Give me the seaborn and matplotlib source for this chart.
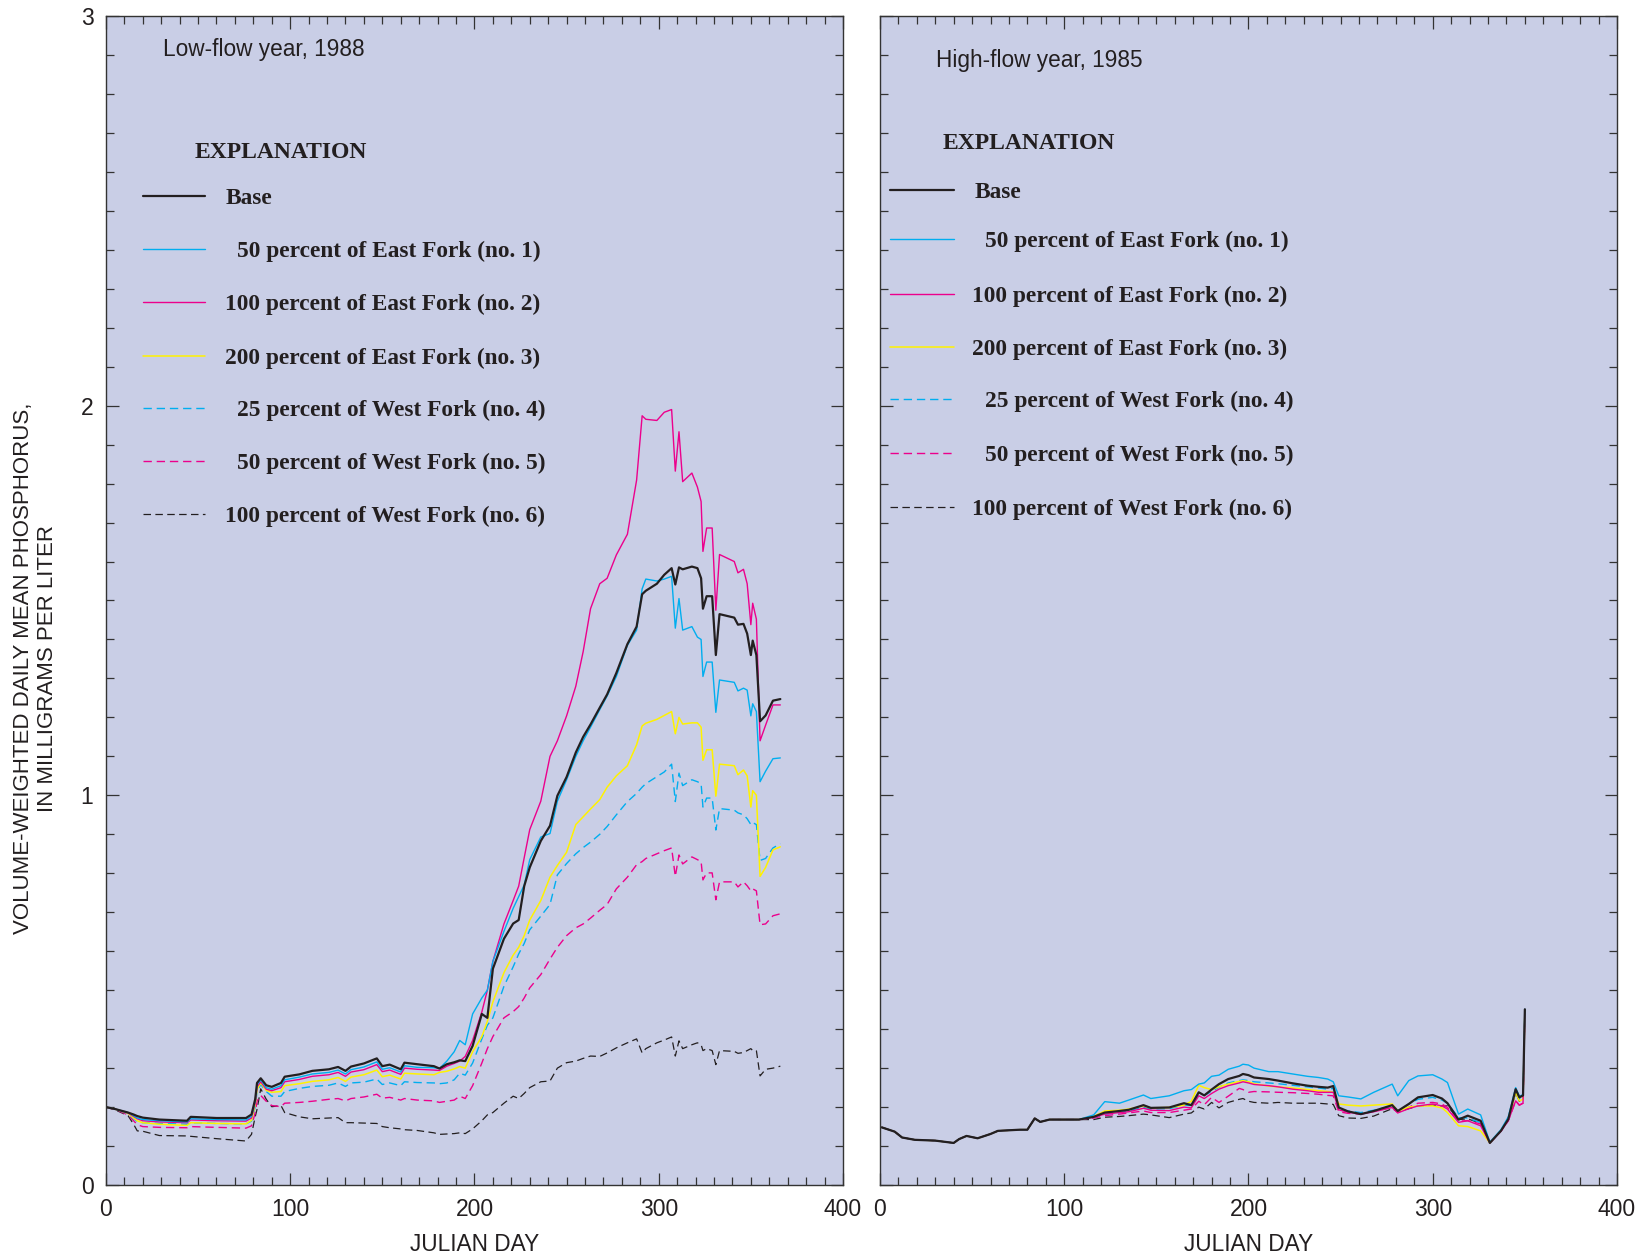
import matplotlib
matplotlib.use("Agg")
import matplotlib.pyplot as plt
from matplotlib.ticker import MultipleLocator
import pandas as pd
import seaborn as sns

# ---------------------------------------------------------------------------
# Simulated volume-weighted daily mean phosphorus (mg/L), low-flow year 1988
# ---------------------------------------------------------------------------
DAYS_1988 = [0, 5, 12, 15, 17, 20, 29, 44, 46, 60,
             76, 79, 81, 82, 84, 87, 90, 95, 97, 105,
             112, 121, 126, 130, 133, 140, 147, 150, 154, 160,
             162, 169, 178, 181, 185, 189, 192, 195, 199, 204,
             207, 210, 216, 221, 224, 227, 230, 236, 241, 245,
             250, 255, 259, 263, 268, 272, 277, 283, 288, 291,
             293, 299, 303, 307, 309, 311, 313, 318, 321, 323,
             324, 326, 329, 331, 333, 341, 343, 346, 348, 350,
             351, 353, 355, 358, 362, 366]

BASE_1988 = [0.200, 0.195, 0.186, 0.181, 0.177, 0.173, 0.168, 0.165, 0.175, 0.172,
             0.172, 0.181, 0.220, 0.262, 0.274, 0.256, 0.252, 0.262, 0.278, 0.284,
             0.293, 0.297, 0.303, 0.293, 0.304, 0.312, 0.325, 0.305, 0.309, 0.297,
             0.314, 0.310, 0.305, 0.299, 0.310, 0.315, 0.320, 0.318, 0.357, 0.439,
             0.429, 0.555, 0.632, 0.671, 0.680, 0.767, 0.815, 0.883, 0.922, 0.999,
             1.047, 1.110, 1.150, 1.182, 1.225, 1.259, 1.314, 1.388, 1.433, 1.516,
             1.525, 1.543, 1.566, 1.583, 1.541, 1.585, 1.580, 1.587, 1.583, 1.557,
             1.479, 1.511, 1.511, 1.360, 1.465, 1.456, 1.438, 1.440, 1.415, 1.360,
             1.397, 1.360, 1.190, 1.205, 1.243, 1.247]

EAST50_1988 = [0.200, 0.195, 0.186, 0.178, 0.172, 0.168, 0.165, 0.162, 0.170, 0.168,
               0.167, 0.176, 0.215, 0.257, 0.270, 0.250, 0.246, 0.255, 0.270, 0.277,
               0.285, 0.289, 0.295, 0.285, 0.296, 0.303, 0.316, 0.297, 0.301, 0.290,
               0.306, 0.302, 0.301, 0.299, 0.318, 0.342, 0.371, 0.360, 0.439, 0.480,
               0.500, 0.574, 0.651, 0.710, 0.740, 0.770, 0.835, 0.893, 0.902, 0.985,
               1.040, 1.100, 1.140, 1.175, 1.220, 1.255, 1.305, 1.385, 1.424, 1.530,
               1.555, 1.550, 1.555, 1.562, 1.429, 1.505, 1.424, 1.433, 1.406, 1.400,
               1.305, 1.342, 1.342, 1.213, 1.296, 1.290, 1.268, 1.275, 1.270, 1.204,
               1.235, 1.215, 1.035, 1.062, 1.094, 1.096]

EAST100_1988 = [0.200, 0.195, 0.185, 0.176, 0.170, 0.165, 0.162, 0.160, 0.167, 0.165,
                0.164, 0.172, 0.210, 0.252, 0.265, 0.246, 0.242, 0.250, 0.265, 0.271,
                0.279, 0.283, 0.289, 0.279, 0.290, 0.296, 0.309, 0.291, 0.295, 0.284,
                0.300, 0.297, 0.295, 0.294, 0.305, 0.312, 0.318, 0.330, 0.371, 0.444,
                0.500, 0.574, 0.670, 0.730, 0.767, 0.840, 0.912, 0.985, 1.100, 1.140,
                1.204, 1.280, 1.369, 1.479, 1.543, 1.557, 1.617, 1.670, 1.809, 1.974,
                1.965, 1.962, 1.983, 1.990, 1.832, 1.933, 1.805, 1.827, 1.791, 1.754,
                1.626, 1.686, 1.686, 1.475, 1.618, 1.600, 1.571, 1.580, 1.543, 1.438,
                1.493, 1.452, 1.140, 1.180, 1.232, 1.232]

EAST200_1988 = [0.200, 0.195, 0.184, 0.172, 0.165, 0.160, 0.156, 0.153, 0.160, 0.158,
                0.157, 0.166, 0.205, 0.245, 0.262, 0.243, 0.238, 0.240, 0.255, 0.260,
                0.266, 0.270, 0.276, 0.266, 0.277, 0.283, 0.295, 0.278, 0.282, 0.272,
                0.287, 0.285, 0.283, 0.289, 0.292, 0.298, 0.304, 0.300, 0.342, 0.381,
                0.420, 0.470, 0.545, 0.590, 0.610, 0.640, 0.680, 0.730, 0.790, 0.820,
                0.854, 0.925, 0.945, 0.965, 0.989, 1.021, 1.050, 1.076, 1.130, 1.178,
                1.185, 1.195, 1.205, 1.215, 1.158, 1.200, 1.183, 1.186, 1.186, 1.175,
                1.090, 1.117, 1.117, 0.998, 1.080, 1.076, 1.053, 1.065, 1.050, 0.970,
                1.012, 1.000, 0.792, 0.815, 0.860, 0.868]

WEST25_1988 = [0.200, 0.195, 0.183, 0.170, 0.163, 0.160, 0.158, 0.156, 0.160, 0.158,
               0.157, 0.164, 0.200, 0.240, 0.258, 0.240, 0.228, 0.228, 0.240, 0.248,
               0.253, 0.256, 0.262, 0.253, 0.262, 0.264, 0.272, 0.258, 0.262, 0.255,
               0.265, 0.263, 0.262, 0.260, 0.262, 0.270, 0.287, 0.282, 0.313, 0.375,
               0.410, 0.429, 0.510, 0.560, 0.593, 0.620, 0.655, 0.690, 0.720, 0.796,
               0.825, 0.850, 0.866, 0.880, 0.900, 0.920, 0.950, 0.984, 1.005, 1.021,
               1.030, 1.048, 1.060, 1.080, 0.984, 1.057, 1.025, 1.040, 1.035, 1.030,
               0.970, 0.993, 0.993, 0.911, 0.966, 0.962, 0.955, 0.950, 0.940, 0.925,
               0.930, 0.925, 0.833, 0.838, 0.865, 0.876]

WEST50_1988 = [0.200, 0.194, 0.180, 0.165, 0.155, 0.150, 0.148, 0.147, 0.150, 0.148,
               0.146, 0.152, 0.185, 0.215, 0.230, 0.215, 0.204, 0.201, 0.210, 0.212,
               0.215, 0.220, 0.222, 0.216, 0.222, 0.226, 0.233, 0.223, 0.225, 0.218,
               0.222, 0.218, 0.216, 0.212, 0.215, 0.218, 0.228, 0.222, 0.255, 0.313,
               0.350, 0.381, 0.429, 0.445, 0.458, 0.480, 0.506, 0.540, 0.580, 0.610,
               0.640, 0.660, 0.670, 0.685, 0.705, 0.720, 0.760, 0.790, 0.822, 0.830,
               0.838, 0.850, 0.858, 0.865, 0.792, 0.847, 0.824, 0.842, 0.835, 0.830,
               0.783, 0.801, 0.801, 0.732, 0.778, 0.778, 0.765, 0.778, 0.768, 0.755,
               0.760, 0.755, 0.668, 0.670, 0.691, 0.696]

WEST100_1988 = [0.200, 0.193, 0.178, 0.156, 0.139, 0.138, 0.127, 0.126, 0.125, 0.119,
                0.113, 0.130, 0.175, 0.194, 0.247, 0.220, 0.201, 0.204, 0.186, 0.175,
                0.170, 0.172, 0.173, 0.160, 0.160, 0.159, 0.158, 0.150, 0.147, 0.144,
                0.142, 0.140, 0.134, 0.130, 0.131, 0.132, 0.134, 0.132, 0.144, 0.165,
                0.180, 0.186, 0.210, 0.228, 0.222, 0.235, 0.250, 0.265, 0.267, 0.300,
                0.314, 0.318, 0.325, 0.331, 0.330, 0.339, 0.352, 0.365, 0.375, 0.339,
                0.350, 0.365, 0.372, 0.380, 0.331, 0.370, 0.350, 0.360, 0.365, 0.360,
                0.345, 0.350, 0.345, 0.309, 0.345, 0.343, 0.338, 0.340, 0.345, 0.350,
                0.345, 0.345, 0.280, 0.297, 0.300, 0.305]

# ---------------------------------------------------------------------------
# High-flow year 1985: all scenarios coincide until mid-April
# ---------------------------------------------------------------------------
DAYS_1985_EARLY = [1, 8, 12, 19, 30, 40, 43, 47, 53, 60, 64, 76, 80, 84, 87, 92, 108]
SHARED_1985_EARLY = [0.148, 0.137, 0.122, 0.116, 0.114, 0.108, 0.118, 0.126, 0.120,
                     0.131, 0.139, 0.142, 0.142, 0.171, 0.162, 0.168, 0.168]

DAYS_1985_LATE = [116, 122, 130, 135, 143, 147, 157, 165, 169, 173,
                  176, 180, 184, 189, 195, 197, 200, 203, 211, 216,
                  224, 232, 238, 243, 246, 249, 254, 261, 268, 278,
                  281, 287, 292, 300, 305, 308, 314, 319, 326, 331,
                  337, 341, 345, 347, 349, 350]

BASE_1985 = [0.175, 0.186, 0.190, 0.193, 0.205, 0.198, 0.199, 0.210, 0.205, 0.238,
             0.230, 0.245, 0.259, 0.272, 0.280, 0.285, 0.282, 0.276, 0.272, 0.268,
             0.261, 0.255, 0.252, 0.250, 0.254, 0.199, 0.189, 0.182, 0.190, 0.205,
             0.190, 0.208, 0.225, 0.231, 0.222, 0.210, 0.168, 0.178, 0.165, 0.108,
             0.139, 0.169, 0.246, 0.225, 0.230, 0.451]

EAST50_1985 = [0.180, 0.214, 0.210, 0.218, 0.231, 0.222, 0.229, 0.242, 0.245, 0.259,
               0.262, 0.279, 0.282, 0.297, 0.305, 0.310, 0.308, 0.300, 0.291, 0.291,
               0.285, 0.279, 0.276, 0.272, 0.265, 0.229, 0.226, 0.221, 0.238, 0.259,
               0.229, 0.268, 0.280, 0.283, 0.272, 0.263, 0.182, 0.195, 0.180, 0.110,
               0.142, 0.175, 0.250, 0.228, 0.232, 0.451]

EAST100_1985 = [0.174, 0.182, 0.186, 0.188, 0.197, 0.192, 0.191, 0.200, 0.198, 0.229,
                0.222, 0.235, 0.246, 0.255, 0.262, 0.265, 0.262, 0.258, 0.255, 0.252,
                0.246, 0.242, 0.238, 0.238, 0.238, 0.193, 0.187, 0.182, 0.188, 0.199,
                0.185, 0.196, 0.203, 0.208, 0.203, 0.195, 0.161, 0.165, 0.152, 0.108,
                0.138, 0.165, 0.216, 0.205, 0.210, 0.443]

EAST200_1985 = [0.176, 0.190, 0.192, 0.195, 0.203, 0.198, 0.199, 0.205, 0.215, 0.256,
                0.250, 0.245, 0.252, 0.259, 0.266, 0.268, 0.265, 0.260, 0.254, 0.252,
                0.249, 0.245, 0.242, 0.240, 0.238, 0.208, 0.205, 0.203, 0.205, 0.208,
                0.190, 0.200, 0.203, 0.203, 0.198, 0.186, 0.152, 0.150, 0.139, 0.108,
                0.140, 0.168, 0.238, 0.216, 0.220, 0.447]

WEST25_1985 = [0.174, 0.182, 0.186, 0.190, 0.200, 0.195, 0.196, 0.205, 0.204, 0.232,
               0.230, 0.240, 0.251, 0.262, 0.268, 0.270, 0.268, 0.265, 0.262, 0.260,
               0.256, 0.252, 0.249, 0.246, 0.248, 0.196, 0.190, 0.186, 0.192, 0.203,
               0.190, 0.208, 0.220, 0.225, 0.218, 0.210, 0.173, 0.172, 0.160, 0.108,
               0.140, 0.168, 0.242, 0.222, 0.226, 0.447]

WEST50_1985 = [0.172, 0.178, 0.182, 0.185, 0.190, 0.186, 0.186, 0.192, 0.195, 0.215,
               0.206, 0.225, 0.212, 0.228, 0.248, 0.245, 0.238, 0.240, 0.239, 0.238,
               0.237, 0.235, 0.233, 0.230, 0.229, 0.188, 0.184, 0.182, 0.190, 0.199,
               0.186, 0.200, 0.210, 0.212, 0.208, 0.199, 0.164, 0.165, 0.157, 0.108,
               0.138, 0.165, 0.216, 0.205, 0.210, 0.443]

WEST100_1985 = [0.168, 0.174, 0.176, 0.178, 0.182, 0.180, 0.173, 0.182, 0.185, 0.200,
                0.195, 0.212, 0.198, 0.212, 0.220, 0.222, 0.215, 0.212, 0.210, 0.212,
                0.210, 0.210, 0.210, 0.208, 0.207, 0.178, 0.172, 0.171, 0.177, 0.196,
                0.188, 0.196, 0.203, 0.205, 0.203, 0.203, 0.168, 0.170, 0.158, 0.108,
                0.139, 0.166, 0.238, 0.215, 0.220, 0.447]

SCENARIOS = ["Base",
             "50 percent of East Fork (no. 1)",
             "100 percent of East Fork (no. 2)",
             "200 percent of East Fork (no. 3)",
             "25 percent of West Fork (no. 4)",
             "50 percent of West Fork (no. 5)",
             "100 percent of West Fork (no. 6)"]

SERIES_1988 = [BASE_1988, EAST50_1988, EAST100_1988, EAST200_1988,
               WEST25_1988, WEST50_1988, WEST100_1988]
SERIES_1985 = [BASE_1985, EAST50_1985, EAST100_1985, EAST200_1985,
               WEST25_1985, WEST50_1985, WEST100_1985]

# ---------------------------------------------------------------------------
# Styling
# ---------------------------------------------------------------------------
BG = "#c9cee6"
INK = "#231f20"
CYAN = "#00aeef"
MAGENTA = "#ec008c"
YELLOW = "#fff200"
DASH = (0, (6, 3.5))
SOLID = "-"

STYLE = {
    SCENARIOS[0]: (INK, 1.6, SOLID),
    SCENARIOS[1]: (CYAN, 1.0, SOLID),
    SCENARIOS[2]: (MAGENTA, 1.0, SOLID),
    SCENARIOS[3]: (YELLOW, 1.1, SOLID),
    SCENARIOS[4]: (CYAN, 1.0, DASH),
    SCENARIOS[5]: (MAGENTA, 1.0, DASH),
    SCENARIOS[6]: (INK, 0.9, DASH),
}
DRAW_ORDER = [SCENARIOS[i] for i in (6, 5, 4, 3, 2, 1, 0)]

sns.set_style("ticks", {"axes.facecolor": BG})
plt.rcParams["font.family"] = ["Liberation Sans", "DejaVu Sans"]
SERIF = ["Liberation Serif", "DejaVu Serif"]
KEY_SIZE = 16.8

# Long-form table for both years
rows = []
for name, vals in zip(SCENARIOS, SERIES_1988):
    for d, v in zip(DAYS_1988, vals):
        rows.append(("1988", name, d, v))
for name, vals in zip(SCENARIOS, SERIES_1985):
    days = DAYS_1985_EARLY + DAYS_1985_LATE
    values = SHARED_1985_EARLY + vals
    for d, v in zip(days, values):
        rows.append(("1985", name, d, v))
df = pd.DataFrame(rows, columns=["year", "scenario", "day", "phosphorus"])

fig = plt.figure(figsize=(16.5, 12.56), dpi=100)
fig.patch.set_facecolor("white")
ax_low = fig.add_axes([0.0642, 0.0565, 0.4467, 0.9308])
ax_high = fig.add_axes([0.5333, 0.0565, 0.4467, 0.9308])

for ax, year in ((ax_low, "1988"), (ax_high, "1985")):
    sub = df[df["year"] == year]
    for name in DRAW_ORDER:
        color, lw, ls = STYLE[name]
        part = sub[sub["scenario"] == name]
        sns.lineplot(data=part, x="day", y="phosphorus", ax=ax, color=color,
                     linewidth=lw, linestyle=ls, estimator=None, sort=False,
                     legend=False)

    ax.set_xlim(0, 400)
    ax.set_ylim(0, 3)
    ax.xaxis.set_major_locator(MultipleLocator(100))
    ax.xaxis.set_minor_locator(MultipleLocator(10))
    ax.yaxis.set_major_locator(MultipleLocator(1))
    ax.yaxis.set_minor_locator(MultipleLocator(0.1))
    ax.tick_params(which="both", direction="in", top=True, right=True,
                   color="#333333", width=0.9)
    ax.tick_params(which="major", length=9, labelsize=16.5, pad=9,
                   labelcolor=INK)
    ax.tick_params(which="minor", length=5.5)
    for sp in ax.spines.values():
        sp.set_color("#333333")
        sp.set_linewidth(1.0)
    ax.set_xlabel("JULIAN DAY", fontsize=16.3, color=INK, labelpad=9)
    ax.set_ylabel("")

ax_high.tick_params(axis="y", which="both", labelleft=False)

fig.text(0.0215, 0.468,
         "VOLUME-WEIGHTED DAILY MEAN PHOSPHORUS,\nIN MILLIGRAMS PER LITER",
         rotation=90, ha="center", va="center", multialignment="center",
         fontsize=16, color=INK, linespacing=1.2)


def draw_explanation(ax, title, title_xy, head_xy, line_x, rows_y, text_x):
    ax.text(*title_xy, title, transform=ax.transAxes, fontsize=16.3,
            color=INK, ha="left", va="center")
    ax.text(*head_xy, "EXPLANATION", transform=ax.transAxes, fontsize=17,
            fontweight="bold", family=SERIF, color=INK, ha="left",
            va="center")
    for name, y, tx in zip(SCENARIOS, rows_y, text_x):
        color, lw, ls = STYLE[name]
        ax.plot(line_x, [y, y], transform=ax.transAxes, color=color,
                linewidth=lw, linestyle=ls, clip_on=False)
        ax.text(tx, y - 0.002, name, transform=ax.transAxes, fontsize=KEY_SIZE,
                fontweight="bold", family=SERIF, color=INK, ha="left",
                va="center")


draw_explanation(
    ax_low, "Low-flow year, 1988", (0.077, 0.971), (0.12, 0.883),
    [0.05, 0.134],
    [0.846, 0.801, 0.755, 0.709, 0.665, 0.619, 0.574],
    [0.163, 0.1785, 0.1615, 0.1615, 0.1785, 0.1785, 0.1615])

draw_explanation(
    ax_high, "High-flow year, 1985", (0.0755, 0.962), (0.0855, 0.891),
    [0.014, 0.0998],
    [0.851, 0.809, 0.762, 0.717, 0.672, 0.626, 0.580],
    [0.1285, 0.143, 0.1255, 0.1255, 0.143, 0.143, 0.1255])

fig.savefig("out.png", dpi=100, facecolor="white")
